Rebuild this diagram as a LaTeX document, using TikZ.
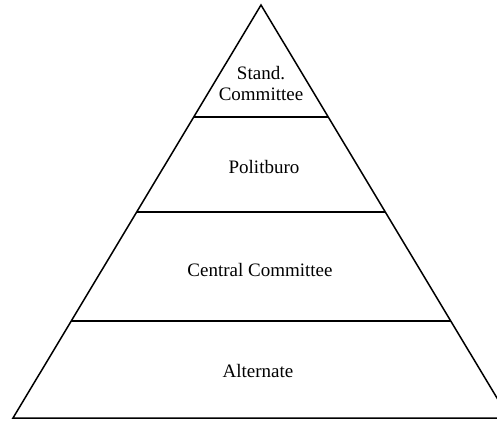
\documentclass[tikz,border=0pt]{standalone}
\usepackage{fontspec}
\setmainfont{Liberation Serif}
\usetikzlibrary{calc}

\begin{document}
\begin{tikzpicture}[
    x=1pt, y=1pt,
    every node/.style={font=\fontsize{19}{21}\selectfont},
    edge/.style={line width=1.5pt},
    tier/.style={align=center},
  ]
  \useasboundingbox (0,0) rectangle (497,421);

  % ── Outline ──────────────────────────────────────────────────────────────
  \coordinate (Top) at (261,416);
  \coordinate (BL)  at (13,3);
  \coordinate (BR)  at (509,3);

  \draw[edge, line join=miter] (BL) -- (Top) -- (BR) -- cycle;

  % ── Dividers ─────────────────────────────────────────────────────────────
  \draw[edge] ($(Top)!0.271!(BL)$) -- ($(Top)!0.271!(BR)$);
  \draw[edge] ($(Top)!0.501!(BL)$) -- ($(Top)!0.501!(BR)$);
  \draw[edge] ($(Top)!0.765!(BL)$) -- ($(Top)!0.765!(BR)$);

  % ── Tiers ────────────────────────────────────────────────────────────────
  \node[tier] (Stand)   at (261,337) {Stand.\\Committee};
  \node[tier, anchor=base] (Polit)   at (264,248) {Politburo};
  \node[tier, anchor=base] (Central) at (260,145) {Central Committee};
  \node[tier, anchor=base] (Alt)     at (258,44)  {Alternate};

\end{tikzpicture}
\end{document}
